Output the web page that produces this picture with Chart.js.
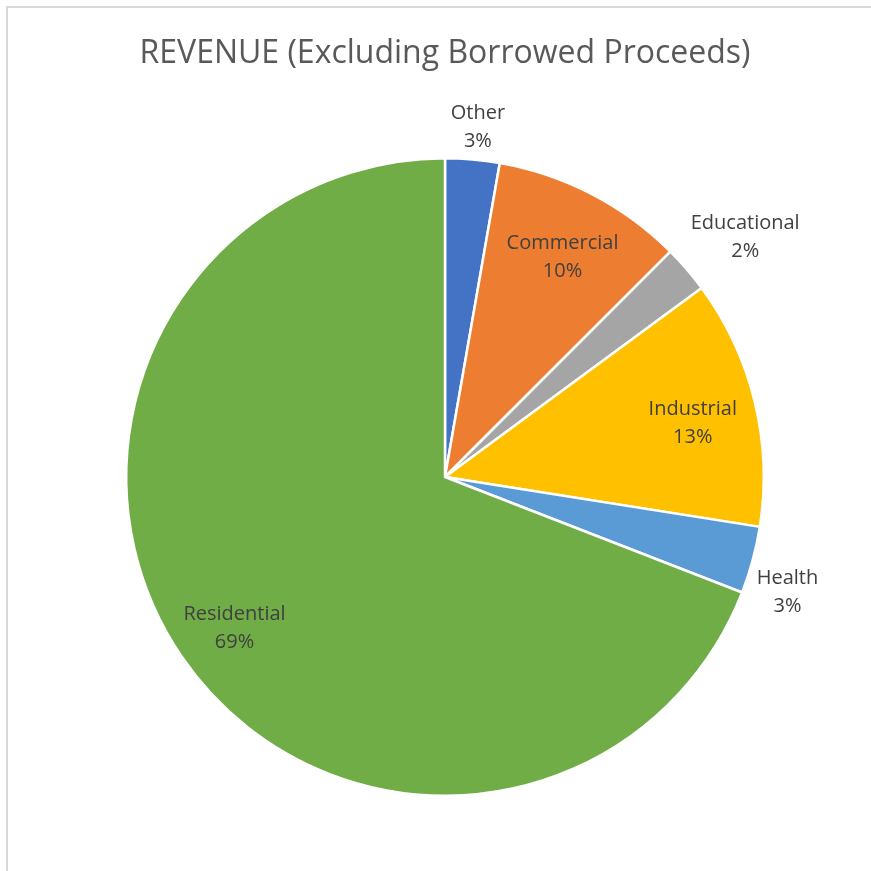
<!DOCTYPE html>
<html>
<head>
<meta charset="utf-8">
<script src="https://cdn.jsdelivr.net/npm/chart.js@4.4.1/dist/chart.umd.min.js"></script>
<style>
    html, body { margin: 0; padding: 0; background: #fff; overflow: hidden; }
    #frame {
        position: absolute; left: 6px; top: 6px;
        width: 1000px; height: 1000px;
        border: 2px solid #d9d9d9;
    }
    #wrap { position: absolute; left: 0; top: 0; width: 871px; height: 871px; }
</style>
</head>
<body>
<div id="frame"></div>
<div id="wrap"><canvas id="revenueChart" width="871" height="871"></canvas></div>
<script>
// Revenue shares by category (percent), clockwise from 12 o'clock
const categories = ['Other', 'Commercial', 'Educational', 'Industrial', 'Health', 'Residential'];
const shares = [2.75, 9.75, 2.4, 12.6, 3.4, 69.1];
const sliceColors = ['#4472c4', '#ed7d31', '#a5a5a5', '#ffc000', '#5b9bd5', '#70ad47'];

const TITLE = 'REVENUE (Excluding Borrowed Proceeds)';
const LABEL_FONT = '20px "Open Sans"';
const LINE_H = 28;

const clamp = v => Math.max(-1, Math.min(1, v));

// Draws "Category / NN%" labels: small slices get them outside the rim,
// bigger ones inside the slice
const sliceLabels = {
    id: 'sliceLabels',
    afterDatasetsDraw(chart) {
        const ctx = chart.ctx;
        const meta = chart.getDatasetMeta(0);
        const total = shares.reduce((a, b) => a + b, 0);

        ctx.save();
        ctx.font = LABEL_FONT;
        ctx.fillStyle = '#404040';
        ctx.textAlign = 'center';
        ctx.textBaseline = 'middle';

        meta.data.forEach((arc, i) => {
            const pct = shares[i] / total * 100;
            const lines = [categories[i], Math.round(pct) + '%'];
            const mid = (arc.startAngle + arc.endAngle) / 2;
            const ux = Math.cos(mid), uy = Math.sin(mid);
            let cx, cy;
            if (pct < 5) {
                // box sits against the rim point at the slice's mid angle
                const hw = Math.max(...lines.map(t => ctx.measureText(t).width)) / 2;
                const ax = arc.x + ux * arc.outerRadius;
                const ay = arc.y + uy * arc.outerRadius;
                cx = ax + (hw + 4) * clamp(ux * 2);
                cy = ay + (LINE_H * 0.85 + 8) * clamp(uy * 4);
            } else {
                cx = arc.x + ux * arc.outerRadius * 0.8;
                cy = arc.y + uy * arc.outerRadius * 0.8 + 7;
            }
            ctx.fillText(lines[0], cx, cy - LINE_H / 2);
            ctx.fillText(lines[1], cx, cy + LINE_H / 2);
        });
        ctx.restore();
    }
};

document.addEventListener('DOMContentLoaded', () => {
    const ctx = document.getElementById('revenueChart').getContext('2d');
    new Chart(ctx, {
        type: 'pie',
        data: {
            labels: categories,
            datasets: [{
                data: shares,
                backgroundColor: sliceColors,
                borderColor: '#ffffff',
                borderWidth: 2.5
            }]
        },
        options: {
            responsive: false,
            animation: false,
            layout: { padding: { top: 0, bottom: 74, left: 125, right: 106 } },
            plugins: {
                legend: { display: false },
                tooltip: { enabled: false },
                title: {
                    display: true,
                    text: TITLE,
                    color: '#595959',
                    font: { family: '"Open Sans"', size: 32, weight: 'normal' },
                    padding: { top: 35, bottom: 83.6 }
                }
            }
        },
        plugins: [sliceLabels]
    });
});
</script>
</body>
</html>
